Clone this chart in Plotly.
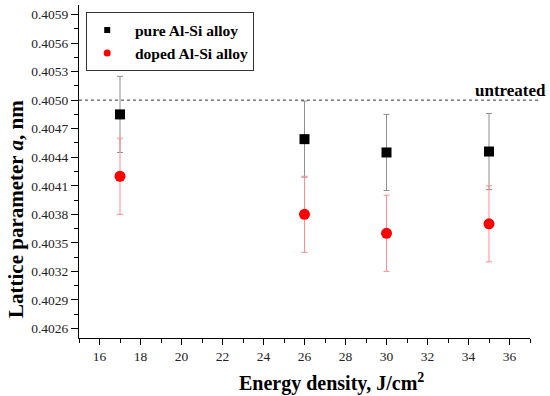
import plotly.graph_objects as go

energy = [17, 26, 30, 35]
pure_a = [0.40485, 0.40459, 0.40445, 0.40446]
pure_err = [0.00040, 0.00040, 0.00040, 0.00040]
doped_a = [0.40420, 0.40380, 0.40360, 0.40370]
doped_err = [0.00040, 0.00040, 0.00040, 0.00040]
untreated_a = 0.4050
y_ticks = [0.4026, 0.4029, 0.4032, 0.4035, 0.4038, 0.4041, 0.4044, 0.4047,
           0.4050, 0.4053, 0.4056, 0.4059]
x_ticks = [16, 18, 20, 22, 24, 26, 28, 30, 32, 34, 36]

FONT = "Liberation Serif, Times New Roman, serif"
NB = "\u00a0"

fig = go.Figure()
fig.add_trace(go.Scatter(
    x=energy, y=pure_a, mode="markers", showlegend=False,
    marker=dict(symbol="square", size=10, color="black"),
    error_y=dict(type="data", array=pure_err, color="#8f8f8f", thickness=1, width=3),
))
fig.add_trace(go.Scatter(
    x=energy, y=doped_a, mode="markers", showlegend=False,
    marker=dict(symbol="circle", size=11, color="#ff0000"),
    error_y=dict(type="data", array=doped_err, color="#ff8f8f", thickness=1, width=3),
))
# legend entries
fig.add_trace(go.Scatter(x=[None], y=[None], mode="markers",
                         name=NB * 2 + "<b>pure Al-Si alloy</b>",
                         marker=dict(symbol="square", size=6, color="black")))
fig.add_trace(go.Scatter(x=[None], y=[None], mode="markers",
                         name=NB * 2 + "<b>doped Al-Si alloy</b>",
                         marker=dict(symbol="circle", size=7, color="#ff0000")))

fig.add_shape(type="line", xref="paper", yref="y", x0=0, x1=1.024,
              y0=untreated_a, y1=untreated_a,
              line=dict(color="#333333", width=1, dash="dot"))
fig.add_annotation(xref="paper", yref="y", x=1.04, y=untreated_a, text="<b>untreated</b>",
                   showarrow=False, xanchor="right", yanchor="bottom", yshift=-2,
                   font=dict(family=FONT, size=17, color="black"))

# axis titles as annotations for precise placement
fig.add_annotation(xref="paper", yref="paper", x=0.559, y=-0.135,
                   text="<b>Energy density, J/cm<sup>2</sup></b>", showarrow=False,
                   xanchor="center", yanchor="middle",
                   font=dict(family=FONT, size=20, color="black"))
fig.add_annotation(xref="paper", yref="paper", x=-0.14, y=0.387,
                   text="<b>Lattice parameter <i>a</i>, nm</b>", showarrow=False,
                   textangle=-90, xanchor="center", yanchor="middle",
                   font=dict(family=FONT, size=21, color="black"))

fig.update_layout(
    width=550, height=396,
    margin=dict(l=79, r=20, t=5, b=58),
    paper_bgcolor="white", plot_bgcolor="white",
    font=dict(family=FONT, size=13.5, color="#222222"),
    legend=dict(x=0.016, y=0.978, xanchor="left", yanchor="top",
                bordercolor="#333333", borderwidth=1, bgcolor="white",
                font=dict(family=FONT, size=15.5, color="black"),
                tracegroupgap=0, itemwidth=30),
    xaxis=dict(range=[15, 37], tickvals=x_ticks, ticks="outside", ticklen=6,
               tickwidth=1, tickcolor="black", showline=True, linecolor="black",
               linewidth=1, showgrid=False, zeroline=False, automargin=False,
               tickfont=dict(family=FONT, size=13.5, color="#222222"),
               minor=dict(dtick=1, ticks="outside", ticklen=4, tickcolor="black")),
    yaxis=dict(range=[0.4025, 0.4060], tickvals=y_ticks, tickformat=".4f",
               ticks="outside", ticklen=7, tickwidth=1, tickcolor="black",
               showline=True, linecolor="black", linewidth=1, showgrid=False,
               zeroline=False, automargin=False,
               tickfont=dict(family=FONT, size=13.5, color="#222222"),
               minor=dict(dtick=0.00015, tick0=0.4026, ticks="outside", ticklen=4, tickcolor="black")),
)

fig.write_html("out.html", config={"displayModeBar": False},
               post_script="document.body.style.margin='0';document.body.style.padding='0';")
